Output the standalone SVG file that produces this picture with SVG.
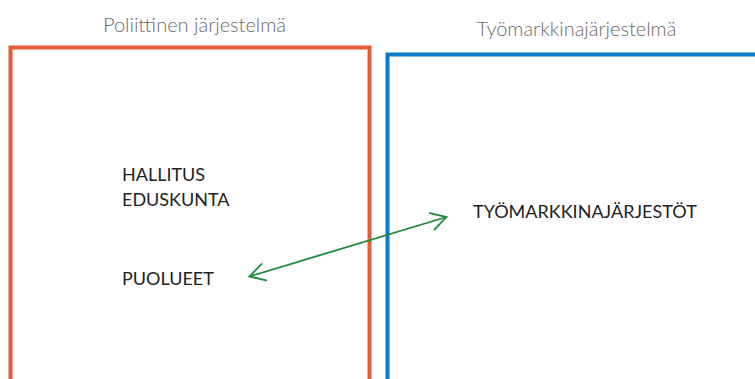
<svg xmlns="http://www.w3.org/2000/svg" width="755" height="379" viewBox="0 0 755 379">
  <style>
    .title { font-family: Lato, "Open Sans", sans-serif; font-weight: 300; font-size: 20px; fill: #6a6a6a; }
    .label { font-family: Lato, "Open Sans", sans-serif; font-weight: 400; font-size: 18px; fill: #222222; }
    .sys { fill: none; stroke-width: 4; }
    .link { fill: none; stroke: #1c8a36; stroke-width: 1.8; }
    .head { fill: none; stroke: #1c8a36; stroke-width: 1.8; stroke-linecap: round; stroke-linejoin: miter; }
  </style>
  <defs>
    <!-- open chevron used at both ends of the connector -->
    <marker id="chev" viewBox="0 0 20 20" refX="18" refY="10" markerWidth="20" markerHeight="20" markerUnits="userSpaceOnUse" orient="auto-start-reverse">
      <path class="head" d="M3 1.5 L18 10 L3 18.5"/>
    </marker>
  </defs>

  <g id="poliittinen-jarjestelma">
    <rect class="sys" x="10.5" y="47.5" width="359" height="345" stroke="#e85c3a"/>
    <text class="title" x="194.5" y="32" text-anchor="middle">Poliittinen järjestelmä</text>
  </g>

  <g id="tyomarkkinajarjestelma">
    <rect class="sys" x="387.5" y="54.5" width="400" height="345" stroke="#0a7cc9"/>
    <text class="title" x="576.5" y="36" text-anchor="middle">Työmarkkinajärjestelmä</text>
  </g>

  <g id="hallitus-eduskunta">
    <text class="label" x="122" y="181">HALLITUS</text>
    <text class="label" x="122" y="206">EDUSKUNTA</text>
  </g>

  <g id="puolueet">
    <text class="label" x="122" y="285">PUOLUEET</text>
  </g>

  <g id="tyomarkkinajarjestot">
    <text class="label" x="473" y="217.5">TYÖMARKKINAJÄRJESTÖT</text>
  </g>

  <g id="connectors">
    <line class="link" x1="249.5" y1="276.5" x2="446.5" y2="217" marker-start="url(#chev)" marker-end="url(#chev)"/>
  </g>
</svg>
